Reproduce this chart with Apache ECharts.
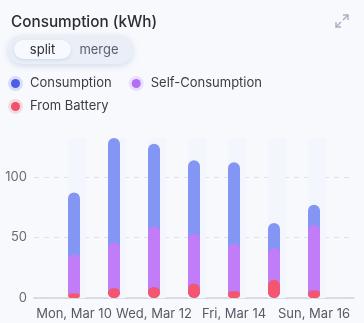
<!DOCTYPE html>
<html>
<head>
<meta charset="utf-8">
<script src="https://cdn.jsdelivr.net/npm/echarts@6/dist/echarts.min.js"></script>
<style>
html,body{margin:0;padding:0;background:#f7f9fd;}
#c{width:364px;height:323px;}
</style>
</head>
<body>
<div id="c"></div>
<script>
var categories = ['Sun, Mar 9','Mon, Mar 10','Tue, Mar 11','Wed, Mar 12','Thu, Mar 13','Fri, Mar 14','Sat, Mar 15','Sun, Mar 16','Mon, Mar 17'];
var consumption     = [null, 87.4, 132.4, 127.7, 113.9, 112.3, 62.0, 77.2, null];
var selfConsumption = [null, 36.4, 46.0, 59.3, 53.2, 45.0, 41.4, 60.7, null];
var fromBattery     = [null, 3.8, 8.0, 9.1, 12.1, 5.5, 15.1, 6.3, null];
var yTicks = [0, 50, 100];

var FONT = 'Inter, "Noto Sans", sans-serif';
var chart = echarts.init(document.getElementById('c'), null, {renderer:'canvas'});
var maxVal = Math.max.apply(null, consumption.filter(function(v){ return v != null; }));
var bgData = consumption.map(function(v){ return v == null ? null : maxVal; });

var legendItems = {
  'Consumption': {color: '#4c5fe6', borderColor: 'rgba(76,95,230,0.18)', borderWidth: 6},
  'Self-Consumption': {color: '#b36ef5', borderColor: 'rgba(179,110,245,0.18)', borderWidth: 6},
  'From Battery': {color: '#f0526c', borderColor: 'rgba(240,82,108,0.18)', borderWidth: 6}
};
function legendCfg(names, top){
  return {
    left: 3, top: top, itemGap: 17, itemWidth: 9, itemHeight: 9,
    icon: 'circle', selectedMode: false,
    textStyle: {fontFamily: FONT, fontSize: 13, color: '#3a3d45', padding: [0,0,0,5]},
    data: names.map(function(n){ return {name: n, itemStyle: legendItems[n]}; })
  };
}

chart.setOption({
  backgroundColor: '#f7f9fd',
  animation: false,
  title: {
    text: 'Consumption (kWh)', left: 6, top: 10,
    textStyle: {fontFamily: FONT, fontSize: 15.3, fontWeight: 500, color: '#2b2d33'}
  },
  legend: [
    legendCfg(['Consumption', 'Self-Consumption'], 71),
    legendCfg(['From Battery'], 94)
  ],
  grid: {left: 34, right: 10, top: 138, bottom: 25},
  xAxis: {
    type: 'category', data: categories, boundaryGap: false,
    axisLine: {lineStyle: {color: '#cfd3db', width: 1.5}},
    axisTick: {show: false},
    axisLabel: {
      interval: function(i){ return i % 2 === 1; },
      fontFamily: FONT, fontSize: 13, color: '#555a66', margin: 10
    }
  },
  yAxis: {
    type: 'value', min: 0, max: 'dataMax', interval: 50,
    axisLabel: {
      fontFamily: FONT, fontSize: 13, color: '#666b76', margin: 7,
      showMaxLabel: false,
      formatter: function(v){ return yTicks.indexOf(v) >= 0 ? String(v) : ''; }
    },
    splitLine: {showMaxLine: false, lineStyle: {type: [5,5], color: '#dde1ea'}}
  },
  series: [
    {
      name: 'bg', type: 'bar', data: bgData, barWidth: 18, barGap: '-100%',
      itemStyle: {color: '#f3f7fd'}, silent: true, z: 1
    },
    {
      name: 'Consumption', type: 'bar', data: consumption, barWidth: 12, barGap: '-100%',
      itemStyle: {color: '#8496f3', borderRadius: 6}, z: 2
    },
    {
      name: 'Self-Consumption', type: 'bar', data: selfConsumption, barWidth: 12, barGap: '-100%',
      itemStyle: {color: '#c17cf7', borderRadius: 6}, z: 2
    },
    {
      name: 'From Battery', type: 'bar', data: fromBattery, barWidth: 12, barGap: '-100%',
      itemStyle: {color: '#f3566e', borderRadius: 6}, z: 2
    }
  ],
  graphic: [
    {type: 'rect', shape: {x: 8, y: 35, width: 125, height: 29, r: 14.5},
     style: {fill: '#e9eef7', shadowBlur: 6, shadowColor: 'rgba(150,165,200,0.35)', shadowOffsetY: 2}},
    {type: 'rect', shape: {x: 14, y: 40, width: 57, height: 19, r: 9.5},
     style: {fill: '#f6f9fe', shadowBlur: 3, shadowColor: 'rgba(150,165,200,0.3)', shadowOffsetY: 1}},
    {type: 'text', x: 42.5, y: 50, style: {text: 'split', fontFamily: FONT, fontSize: 13, fill: '#2b2d33', align: 'center', verticalAlign: 'middle'}},
    {type: 'text', x: 99, y: 50, style: {text: 'merge', fontFamily: FONT, fontSize: 13, fill: '#5a5f6b', align: 'center', verticalAlign: 'middle'}},
    {type: 'polyline', shape: {points: [[343,15],[348,15],[348,20]]}, style: {stroke: '#a9b0c2', lineWidth: 1.4, fill: null}},
    {type: 'line', shape: {x1: 348, y1: 15, x2: 343, y2: 20}, style: {stroke: '#a9b0c2', lineWidth: 1.4}},
    {type: 'polyline', shape: {points: [[336,22],[336,27],[341,27]]}, style: {stroke: '#a9b0c2', lineWidth: 1.4, fill: null}},
    {type: 'line', shape: {x1: 336, y1: 27, x2: 341, y2: 22}, style: {stroke: '#a9b0c2', lineWidth: 1.4}}
  ]
});
</script>
</body>
</html>
